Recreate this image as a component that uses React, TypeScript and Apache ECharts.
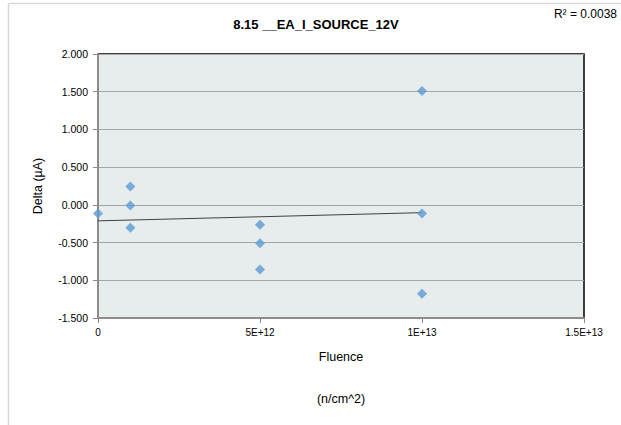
import React, { useEffect, useRef } from "react";
import * as echarts from "echarts";

const fluence: number[] = [0, 1e12, 1e12, 1e12, 5e12, 5e12, 5e12, 1e13, 1e13, 1e13];
const delta: number[] = [-0.115, 0.244, -0.008, -0.305, -0.265, -0.508, -0.857, 1.508, -0.114, -1.18];
const xTicks: number[] = [0, 5e12, 1e13, 1.5e13];
const xTickLabels: string[] = ["0", "5E+12", "1E+13", "1.5E+13"];
const titleText = "8.15 __EA_I_SOURCE_12V";
const r2Text = "R\u00B2 = 0.0038";

function regression(xs: number[], ys: number[]) {
  const n = xs.length;
  const mx = xs.reduce((a, b) => a + b, 0) / n;
  const my = ys.reduce((a, b) => a + b, 0) / n;
  let sxy = 0;
  let sxx = 0;
  for (let i = 0; i < n; i++) {
    sxy += (xs[i] - mx) * (ys[i] - my);
    sxx += (xs[i] - mx) * (xs[i] - mx);
  }
  const slope = sxy / sxx;
  return { slope, intercept: my - slope * mx };
}

export default function App() {
  const ref = useRef<HTMLDivElement>(null);
  useEffect(() => {
    if (!ref.current) return;
    const chart = echarts.init(ref.current, undefined, { renderer: "svg" });
    const { slope, intercept } = regression(fluence, delta);
    const xMin = Math.min(...fluence);
    const xMax = Math.max(...fluence);
    const trend = [
      [xMin, intercept + slope * xMin],
      [xMax, intercept + slope * xMax],
    ];
    const font = "'Liberation Sans', Arial, sans-serif";
    chart.setOption({
      animation: false,
      backgroundColor: "#ffffff",
      textStyle: { fontFamily: font },
      graphic: [
        {
          type: "line",
          shape: { x1: 8.5, y1: 3.5, x2: 621, y2: 3.5 },
          style: { stroke: "#d9d9d9", lineWidth: 1.5 },
        },
        {
          type: "line",
          shape: { x1: 8.5, y1: 3.5, x2: 8.5, y2: 425 },
          style: { stroke: "#d9d9d9", lineWidth: 1.5 },
        },
        {
          type: "text",
          x: 316,
          y: 24,
          style: {
            text: titleText,
            fontFamily: font,
            fontWeight: "bold",
            fontSize: 13,
            fill: "#000",
            align: "center",
            verticalAlign: "middle",
          },
        },
        {
          type: "text",
          x: 617,
          y: 14,
          style: {
            text: r2Text,
            fontFamily: font,
            fontSize: 12,
            fill: "#000",
            align: "right",
            verticalAlign: "middle",
          },
        },
      ],
      grid: {
        left: 98,
        top: 54,
        right: 37,
        bottom: 107,
        show: true,
        backgroundColor: "#e7ecec",
        borderColor: "#000000",
        borderWidth: 1.5,
      },
      xAxis: {
        type: "value",
        min: 0,
        max: 1.5e13,
        interval: 5e12,
        name: "Fluence\n\n(n/cm^2)",
        nameLocation: "middle",
        nameGap: 28,
        nameTextStyle: { fontSize: 12.5, color: "#000", lineHeight: 21, fontFamily: font },
        axisLine: { show: true, onZero: false, lineStyle: { color: "#8c8c8c", width: 2 } },
        axisTick: { show: true, inside: false, length: 5, lineStyle: { color: "#8c8c8c", width: 1 } },
        axisLabel: {
          fontSize: 10,
          color: "#000",
          margin: 9,
          fontFamily: font,
          formatter: (v: number) => {
            const i = xTicks.indexOf(v);
            return i >= 0 ? xTickLabels[i] : "";
          },
        },
        splitLine: { show: false },
      },
      yAxis: {
        type: "value",
        min: -1.5,
        max: 2,
        interval: 0.5,
        name: "Delta (\u00B5A)",
        nameLocation: "middle",
        nameGap: 54,
        nameTextStyle: { fontSize: 12.5, color: "#000", fontFamily: font },
        axisLine: { show: true, onZero: false, lineStyle: { color: "#8c8c8c", width: 2 } },
        axisTick: { show: true, inside: false, length: 5, lineStyle: { color: "#8c8c8c", width: 1 } },
        axisLabel: {
          fontSize: 10.5,
          color: "#000",
          margin: 10,
          fontFamily: font,
          formatter: (v: number) => v.toFixed(3),
        },
        splitLine: { show: true, lineStyle: { color: "#a6a6a6", width: 1 } },
      },
      series: [
        {
          type: "line",
          data: trend,
          showSymbol: false,
          symbol: "none",
          lineStyle: { color: "#404040", width: 1 },
          silent: true,
          z: 2,
        },
        {
          type: "scatter",
          data: fluence.map((x, i) => [x, delta[i]]),
          symbol: "diamond",
          symbolSize: 10,
          itemStyle: { color: "#5b9bd5" },
          z: 3,
        },
      ],
    });
    return () => chart.dispose();
  }, []);
  return (
    <div
      ref={ref}
      style={{ position: "absolute", left: 0, top: 0, width: 621, height: 425 }}
    />
  );
}
